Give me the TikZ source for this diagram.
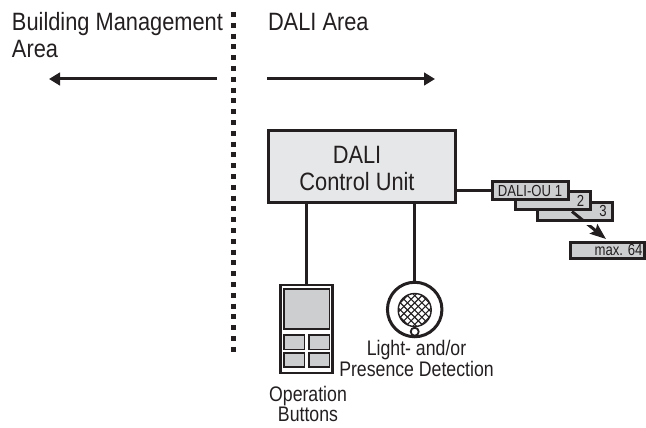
\documentclass[tikz,border=0pt]{standalone}
\usepackage{fontspec}
\usetikzlibrary{arrows.meta}
\newfontfamily\lblfont[FakeStretch=0.87]{Liberation Sans}
\newfontfamily\midfont[FakeStretch=0.84]{Liberation Sans}
\newfontfamily\smallfont[FakeStretch=0.82]{Liberation Sans}
\definecolor{unitgray}{HTML}{E6E7E8}
\definecolor{boxgray}{HTML}{CDCED0}
\definecolor{inkblack}{HTML}{231F20}
\newdimen\px \px=.75pt
\tikzset{
  x=.75pt,y=-.75pt,
  big/.style={inner sep=0pt,outer sep=0pt,text=inkblack,font=\lblfont\fontsize{18.8pt}{20.6pt}\selectfont},
  mid/.style={inner sep=0pt,outer sep=0pt,text=inkblack,font=\midfont\fontsize{15.8pt}{14pt}\selectfont,align=center},
  tiny/.style={inner sep=0pt,outer sep=0pt,text=inkblack,font=\smallfont\fontsize{12pt}{13pt}\selectfont},
  box/.style={draw=inkblack,line width=3\px,fill=boxgray,rectangle,inner sep=0pt,outer sep=0pt},
  wire/.style={draw=inkblack,line width=3\px},
  flow/.style={draw=inkblack,line width=3\px,-{Triangle[length=8.25pt,width=9.4pt]}},
  devline/.style={draw=inkblack,line width=1.6\px,fill=boxgray,rectangle,inner sep=0pt,outer sep=0pt},
}
\begin{document}
\begin{tikzpicture}
\useasboundingbox (0,0) rectangle (646,428);
% divider
\draw[draw=inkblack,line width=5\px,dash pattern=on 3.75pt off 4.35pt] (233.5,12) coordinate (dtop) -- (233.5,356) coordinate (dbot);
% headings
\node[big,anchor=base west] (bm) at (12,30.6) {Building Management};
\node[big,anchor=base west] (bma) at (12,58) {Area};
\node[big,anchor=base west] (da) at (268,30.6) {DALI Area};
\coordinate (la) at (217,79); \coordinate (lb) at (49,79);
\coordinate (ra) at (267,79); \coordinate (rb) at (435,79);
\draw[flow] (la) -- (lb);
\draw[flow] (ra) -- (rb);
% control unit
\node[box,fill=unitgray,minimum width=187\px,minimum height=72\px] (cu) at (362,166.5) {};
\node[big,anchor=base] (cu1) at (357,163) {DALI};
\node[big,anchor=base] (cu2) at (357,190) {Control Unit};
% output units
\node[box,minimum width=75\px,minimum height=17.5\px] (ou3) at (575,211.7) {};
\node[box,minimum width=75\px,minimum height=17.5\px] (ou2) at (553,200.7) {};
\node[box,minimum width=76\px,minimum height=18\px] (ou1) at (530.5,190.5) {};
\node[tiny,anchor=base] (ou1t) at (530,196.7) {DALI-OU 1};
\node[tiny,anchor=base] (ou2t) at (580.5,206) {2};
\node[tiny,anchor=base] (ou3t) at (603,216.7) {3};
\node[box,minimum width=74\px,minimum height=16\px] (oum) at (607.5,250) {};
\node[tiny,anchor=base east] (oumt) at (642.5,255.7) {max. 64};
\draw[wire] (cu.east |- ou1.west) -- (ou1.west);
\coordinate (as) at (572,211.5); \coordinate (ae) at (606,239);
\draw[draw=inkblack,line width=3\px,-{Stealth[length=12pt,width=9pt,inset=2pt]}] (as) -- (ae);
\draw[white,line width=4\px] (580,223) -- (592,223);
\draw[draw=inkblack,line width=3\px] (578,220.5) -- (594,220.5);
% operation device
\node[draw=inkblack,line width=2.6\px,fill=white,rectangle,inner sep=0pt,outer sep=0pt,minimum width=52\px,minimum height=88\px] (op) at (306.7,329) {};
\node[devline,minimum width=45.5\px,minimum height=40\px] (scr) at (306.7,308.8) {};
\node[devline,minimum width=20.5\px,minimum height=14.5\px] (b1) at (294.3,342.3) {};
\node[devline,minimum width=20.5\px,minimum height=14.5\px] (b2) at (319.2,342.3) {};
\node[devline,minimum width=20.5\px,minimum height=14.5\px] (b3) at (294.3,360) {};
\node[devline,minimum width=20.5\px,minimum height=14.5\px] (b4) at (319.2,360) {};
\draw[wire] (cu.south -| op.north) -- (op.north);
\node[mid,anchor=south] (opt) at (308,421.7) {Operation\\Buttons};
% sensor
\node[draw=inkblack,line width=3\px,circle,fill=white,inner sep=0pt,outer sep=0pt,minimum size=54.5\px] (sn) at (414.7,309.5) {};
\node[draw=inkblack,line width=1.4\px,circle,inner sep=0pt,outer sep=0pt,minimum size=33\px] (sh) at (414.7,310) {};
\begin{scope}
\clip (414.7,310) circle[radius=16.5];
\foreach \k in {-6,...,6} {
  \draw[inkblack,line width=1.1\px] (414.7+\k*7.2-30,280) -- (414.7+\k*7.2+30,340);
  \draw[inkblack,line width=1.1\px] (414.7+\k*7.2+30,280) -- (414.7+\k*7.2-30,340);
}
\end{scope}
\node[draw=inkblack,line width=1.8\px,circle,fill=white,inner sep=0pt,outer sep=0pt,minimum size=8\px] (sd) at (414.7,331.7) {};
\draw[wire] (cu.south -| sn.north) -- (sn.north);
\node[mid,anchor=south] (st) at (416.5,377) {Light- and/or\\Presence Detection};
\end{tikzpicture}
\end{document}
